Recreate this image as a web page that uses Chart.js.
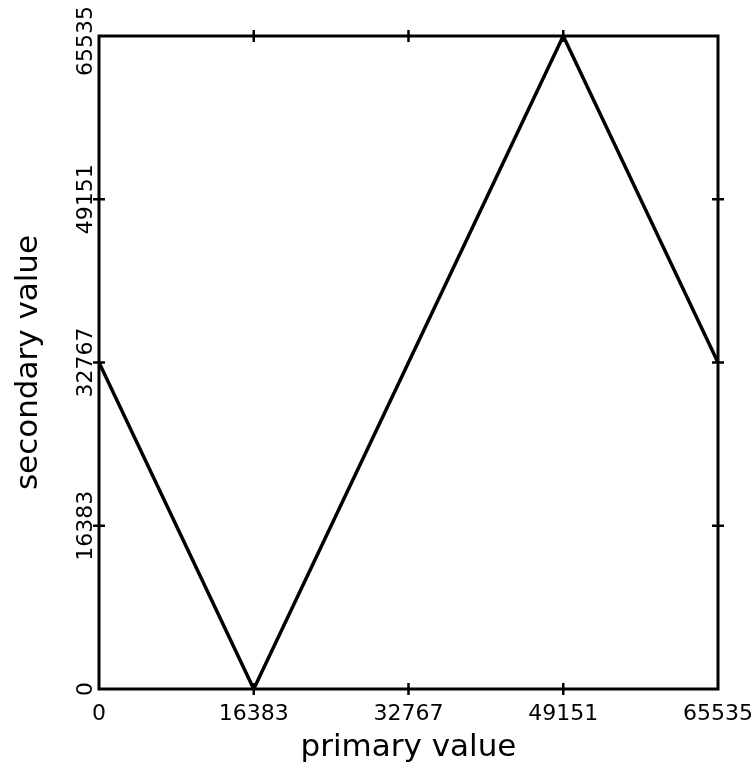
<!DOCTYPE html>
<html lang="en">
<head>
    <meta charset="UTF-8">
    <title>secondary vs primary value</title>
    <script src="https://cdn.jsdelivr.net/npm/chart.js"></script>
    <style>
        html, body { margin: 0; padding: 0; background: #fff; }
        #wrap { width: 755px; height: 773px; }
    </style>
</head>
<body>
    <div id="wrap"><canvas id="lineChart" width="755" height="773"></canvas></div>

    <script>
        // values
        const primaryValues = [0, 16383, 49151, 65535];
        const secondaryValues = [32767, 0, 65535, 32767];
        const tickValues = [0, 16383, 32767, 49151, 65535];

        const fontFamily = '"DejaVu Sans", sans-serif';
        const ink = '#000';

        // frame, crossing tick marks and rotated y labels
        const framePlugin = {
            id: 'frame',
            afterDraw(chart) {
                const { ctx, chartArea: a, scales } = chart;
                ctx.save();
                ctx.strokeStyle = ink;
                ctx.lineWidth = 3;
                ctx.strokeRect(a.left, a.top, a.right - a.left, a.bottom - a.top);

                ctx.lineWidth = 2.5;
                const half = 6;
                tickValues.slice(1, -1).forEach(v => {
                    const x = scales.x.getPixelForValue(v);
                    const y = scales.y.getPixelForValue(v);
                    ctx.beginPath();
                    ctx.moveTo(x, a.top - half); ctx.lineTo(x, a.top + half);
                    ctx.moveTo(x, a.bottom - half); ctx.lineTo(x, a.bottom + half);
                    ctx.moveTo(a.left - half, y); ctx.lineTo(a.left + half, y);
                    ctx.moveTo(a.right - half, y); ctx.lineTo(a.right + half, y);
                    ctx.stroke();
                });

                ctx.fillStyle = ink;
                ctx.font = '22px ' + fontFamily;
                ctx.textAlign = 'center';
                ctx.textBaseline = 'middle';
                tickValues.forEach(v => {
                    const label = String(v);
                    const w = ctx.measureText(label).width;
                    let y = scales.y.getPixelForValue(v);
                    y = Math.max(y, 6 + w / 2);
                    ctx.save();
                    ctx.translate(a.left - 13, y);
                    ctx.rotate(-Math.PI / 2);
                    ctx.fillText(label, 0, 0);
                    ctx.restore();
                });
                ctx.restore();
            }
        };

        const ctx = document.getElementById('lineChart').getContext('2d');
        const lineChart = new Chart(ctx, {
            type: 'line',
            data: {
                datasets: [{
                    data: primaryValues.map((x, i) => ({ x: x, y: secondaryValues[i] })),
                    borderColor: ink,
                    borderWidth: 3.5,
                    pointRadius: 0,
                    tension: 0,
                    fill: false
                }]
            },
            options: {
                responsive: false,
                animation: false,
                layout: { padding: { top: 36, right: 37, left: 0, bottom: 0 } },
                plugins: {
                    legend: { display: false },
                    tooltip: { enabled: false }
                },
                scales: {
                    x: {
                        type: 'linear',
                        min: 0,
                        max: 65535,
                        afterBuildTicks: scale => { scale.ticks = tickValues.map(v => ({ value: v })); },
                        afterFit: scale => {
                            scale.height = 84;
                            scale.paddingLeft = 0;
                            scale.paddingRight = 0;
                        },
                        grid: { display: false, drawTicks: false },
                        border: { display: false },
                        ticks: {
                            color: ink,
                            padding: 12,
                            maxRotation: 0,
                            autoSkip: false,
                            callback: v => String(v),
                            font: { family: fontFamily, size: 22 }
                        },
                        title: {
                            display: true,
                            text: 'primary value',
                            color: ink,
                            padding: { top: 0, bottom: 6 },
                            font: { family: fontFamily, size: 31 }
                        }
                    },
                    y: {
                        type: 'linear',
                        min: 0,
                        max: 65535,
                        afterBuildTicks: scale => { scale.ticks = tickValues.map(v => ({ value: v })); },
                        afterFit: scale => { scale.width = 99; },
                        grid: { display: false, drawTicks: false },
                        border: { display: false },
                        ticks: { display: false },
                        title: {
                            display: true,
                            text: 'secondary value',
                            color: ink,
                            padding: { top: 10, bottom: 0 },
                            font: { family: fontFamily, size: 31 }
                        }
                    }
                }
            },
            plugins: [framePlugin]
        });
    </script>
</body>
</html>
